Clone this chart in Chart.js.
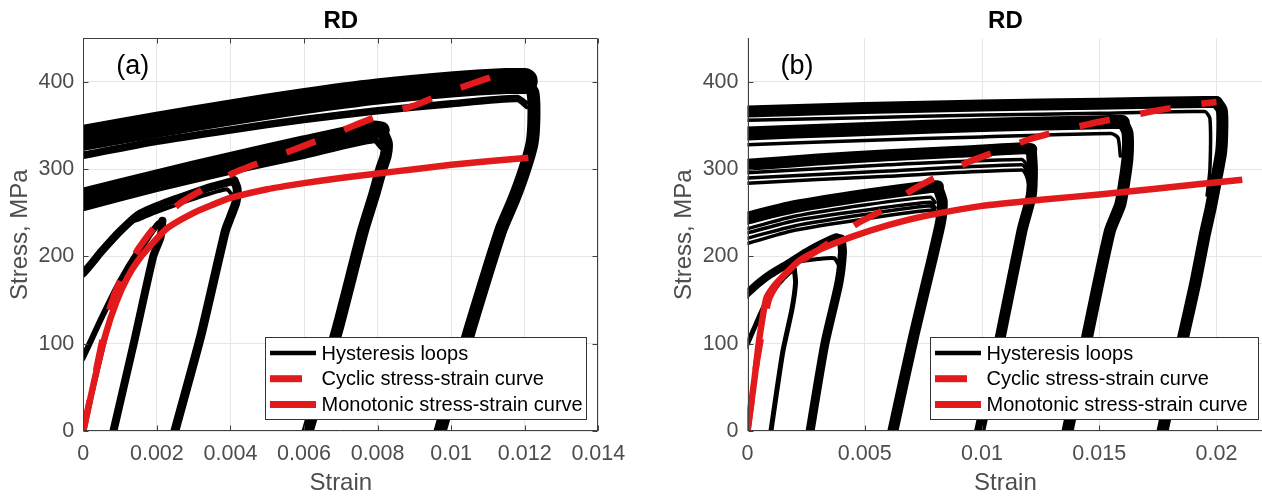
<!DOCTYPE html>
<html>
<head>
<meta charset="utf-8">
<script src="https://cdn.jsdelivr.net/npm/chart.js@4.4.1/dist/chart.umd.min.js"></script>
<style>
  html, body { margin: 0; padding: 0; background: #fff; overflow: hidden; width: 1262px; height: 497px; position: relative; }
  canvas { position: absolute; top: 0; }
  #chartA { left: 0; }
  #chartB { left: 664px; }
</style>
</head>
<body>
<canvas id="chartA" width="640" height="497"></canvas>
<canvas id="chartB" width="610" height="497"></canvas>
<script>
// ---- axes ----
const stressTicks = [0, 100, 200, 300, 400];
const stressLabels = ['0', '100', '200', '300', '400'];
const strainTicksA = [0, 0.002, 0.004, 0.006, 0.008, 0.01, 0.012, 0.014];
const strainLabelsA = ['0', '0.002', '0.004', '0.006', '0.008', '0.01', '0.012', '0.014'];
const strainTicksB = [0, 0.005, 0.01, 0.015, 0.02];
const strainLabelsB = ['0', '0.005', '0.01', '0.015', '0.02'];
const legendLabels = ['Hysteresis loops', 'Cyclic stress-strain curve', 'Monotonic stress-strain curve'];

// ---- panel (a): [strain, stress MPa] ----
const monotonicA = [[0,0],[0.0003,58],[0.0006,110],[0.0009,148],[0.0012,176],[0.0015,196],[0.0019,216],[0.0023,233],[0.003,250],[0.0035,259],[0.004,267],[0.005,277],[0.006,284],[0.007,290],[0.008,295],[0.009,300],[0.01,305],[0.011,309],[0.0121,313]];
const cyclicA = [[0,0],[0.0003,60],[0.0007,138],[0.001,172],[0.0015,209],[0.002,237],[0.0026,260],[0.0033,278],[0.0041,296],[0.0049,309],[0.0057,322],[0.0065,335],[0.0073,349],[0.0081,362],[0.009,373],[0.0097,385],[0.0105,397],[0.0114,410]];

const a12Band = [[-0.001,330],[0,336],[0.002,351],[0.004,365],[0.006,378],[0.008,389],[0.010,397],[0.0115,401],[0.0120,401]];
const a12Down = [[0.0120,401],[0.01222,388],[0.01225,360],[0.0122,330],[0.0120,300],[0.0117,265],[0.01135,230],[0.0105,115],[0.0097,0],[0.0094,-40]];
const a12Thin1 = [[-0.001,311],[0,318],[0.002,334],[0.004,347],[0.006,359],[0.008,369],[0.010,377],[0.0118,383],[0.01205,376]];
const a12Thin2 = [[-0.001,307],[0,314],[0.002,330],[0.004,343],[0.006,355],[0.008,365],[0.010,373],[0.0118,379],[0.01205,371]];

const a08Band = [[-0.001,257],[0,269],[0.002,290],[0.004,310],[0.006,329],[0.0079,346],[0.0081,345]];
const a08Down = [[0.0081,345],[0.00825,330],[0.00822,315],[0.0081,300],[0.0079,270],[0.0076,229],[0.0069,115],[0.0061,0],[0.0058,-40]];
const a08Thin1 = [[-0.001,247],[0,258],[0.002,280],[0.004,300],[0.006,318],[0.0079,336],[0.0081,328]];
const a08Thin2 = [[-0.001,243],[0,254],[0.002,276],[0.004,296],[0.006,314],[0.0079,332],[0.0081,324]];

const a04Up = [[-0.0005,165],[0,181],[0.0005,206],[0.001,229],[0.0015,248],[0.0022,261],[0.003,273],[0.0035,280],[0.0041,287]];
const a04Inner = [[0.0012,238],[0.0016,244],[0.002,251],[0.003,266],[0.0039,277],[0.00405,270]];
const a04Down = [[0.0041,287],[0.00418,278],[0.00415,262],[0.0040,245],[0.00386,229],[0.0032,110],[0.00249,0],[0.0023,-30]];

const a02Up = [[-0.0003,65],[0,85],[0.0005,130],[0.001,172],[0.0015,207],[0.002,236],[0.00215,241]];
const a02Down = [[0.00215,241],[0.0021,222],[0.0019,200],[0.00137,100],[0.00082,0],[0.0007,-25]];
const a02Load = [[0,0],[0.0003,55],[0.0006,108],[0.0009,150],[0.0012,180],[0.0016,210],[0.002,236]];

// ---- panel (b) ----
const monotonicB = [[0,0],[0.0003,60],[0.0005,105],[0.0008,152],[0.0011,165],[0.0015,177],[0.0022,195],[0.003,207],[0.0045,223],[0.006,236],[0.0075,246],[0.01,258],[0.0125,265],[0.015,271],[0.0175,278],[0.0211,288]];
const cyclicB = [[0,0],[0.0004,80],[0.0009,150],[0.0013,170],[0.002,190],[0.003,207],[0.0037,220],[0.0047,238],[0.0059,255],[0.007,276],[0.0082,293],[0.0095,309],[0.0107,321],[0.012,334],[0.0132,343],[0.0146,352],[0.0159,359],[0.0172,366],[0.0185,372],[0.02,377]];

const b20Band = [[-0.001,365],[0,366],[0.005,370],[0.01,373],[0.015,375],[0.0195,377],[0.0200,377]];
const b20Down = [[0.0200,377],[0.02022,368],[0.02025,350],[0.0202,320],[0.0200,290],[0.01975,255],[0.0195,225],[0.0191,170],[0.0186,110],[0.0181,50],[0.0177,0],[0.0175,-30]];
const b20Thin = [[-0.001,355],[0,356],[0.005,359],[0.01,362],[0.015,364],[0.0195,366],[0.01972,358],[0.01972,300],[0.0196,270]];

const b16Band = [[-0.001,339],[0,341],[0.004,345],[0.008,349],[0.012,352],[0.0155,354],[0.016,354]];
const b16Down = [[0.016,354],[0.0162,342],[0.01622,320],[0.01615,300],[0.0159,260],[0.01545,229],[0.0145,110],[0.01365,0],[0.0134,-30]];
const b16Thin = [[-0.001,327],[0,328],[0.005,333],[0.01,337],[0.0155,341],[0.0158,336],[0.0159,315]];

const b12Band = [[-0.001,303],[0,305],[0.003,311],[0.006,316],[0.009,320],[0.0118,324],[0.0121,323]];
const b12Down = [[0.0121,323],[0.01215,300],[0.0121,270],[0.0117,229],[0.0108,110],[0.0099,0],[0.0097,-30]];
const b12Thin1 = [[-0.001,294],[0,296],[0.006,305],[0.0117,311],[0.0119,305],[0.012,292]];
const b12Thin2 = [[-0.001,288],[0,290],[0.006,298],[0.0117,305],[0.0119,298],[0.012,287]];
const b12Thin3 = [[-0.001,282],[0,284],[0.006,292],[0.0117,299],[0.0119,292],[0.012,282]];

const b08Band = [[-0.001,237],[0,244],[0.002,257],[0.005,270],[0.0078,280],[0.0081,280]];
const b08Down = [[0.0081,280],[0.0083,264],[0.00828,248],[0.0082,235],[0.0079,200],[0.0071,110],[0.0062,0],[0.006,-30]];
const b08Thin1 = [[-0.001,226],[0,232],[0.002,246],[0.005,259],[0.0078,268],[0.008,262]];
const b08Thin2 = [[-0.001,221],[0,227],[0.002,241],[0.005,253],[0.0078,262],[0.008,256]];
const b08Thin3 = [[-0.001,215],[0,221],[0.002,235],[0.005,248],[0.0078,258],[0.008,252]];
const b08Thin4 = [[-0.001,209],[0,215],[0.002,230],[0.005,243],[0.0078,253],[0.008,247]];

const b04Up = [[-0.0005,145],[0,158],[0.0005,170],[0.001,180],[0.0018,193],[0.0025,205],[0.0032,215],[0.0038,222],[0.004,220]];
const b04Inner = [[0.0015,186],[0.002,193],[0.003,197],[0.0037,198],[0.0039,190]];
const b04Down = [[0.004,220],[0.00405,205],[0.0039,170],[0.0033,100],[0.00267,0],[0.0025,-30]];

const b02Up = [[-0.0003,85],[0,100],[0.0004,125],[0.0008,148],[0.0013,168],[0.0018,182],[0.002,185]];
const b02Down = [[0.002,185],[0.00205,170],[0.0019,140],[0.0015,90],[0.001,0],[0.0009,-20]];

const RED = '#e31a1c';
const FONT = '"Liberation Sans", Arial, sans-serif';
const GRAY = '#4d4d4d';

const black = (data, width) => ({
  data, borderColor: '#000', borderWidth: width, pointRadius: 0, tension: 0.2,
  borderCapStyle: 'round', borderJoinStyle: 'round', clip: 0
});
const redLine = (data, dashed) => ({
  data, borderColor: RED, borderWidth: 6.5, pointRadius: 0, tension: 0.2,
  borderDash: dashed ? [31, 31] : [], borderCapStyle: 'butt', clip: 0
});

// legend sample styles: [color, width, length]
const legendStyles = [['#000', 4.7, 46], [RED, 7, 32], [RED, 7, 46]];

const panelFrame = {
  id: 'panelFrame',
  afterDatasetsDraw(chart, args, o) {
    const { ctx, chartArea: a, scales } = chart;
    const L = Math.round(a.left) + 0.5, R = Math.round(a.right) - 0.5;
    const T = Math.round(a.top) + 0.5, B = Math.round(a.bottom) - 0.5;
    ctx.save();
    ctx.strokeStyle = '#404040';
    ctx.lineWidth = 1;
    ctx.beginPath();
    ctx.moveTo(L, T - 0.5); ctx.lineTo(L, B); ctx.lineTo(a.right, B);
    if (o.box) { ctx.moveTo(L, T); ctx.lineTo(R, T); ctx.lineTo(R, B); }
    scales.y.ticks.forEach(t => {
      const py = Math.round(scales.y.getPixelForValue(t.value)) + 0.5;
      ctx.moveTo(L, py); ctx.lineTo(L + 5, py);
      if (o.box) { ctx.moveTo(R, py); ctx.lineTo(R - 5, py); }
    });
    scales.x.ticks.forEach(t => {
      const px = Math.round(scales.x.getPixelForValue(t.value)) + 0.5;
      ctx.moveTo(px, B); ctx.lineTo(px, B - 5);
      if (o.box) { ctx.moveTo(px, T); ctx.lineTo(px, T + 5); }
    });
    ctx.stroke();

    // panel letter
    ctx.fillStyle = '#000';
    ctx.font = '27px ' + FONT;
    ctx.textBaseline = 'alphabetic';
    ctx.textAlign = 'left';
    ctx.fillText(o.letter, a.left + 33, a.top + 36);

    // legend box
    const lg = o.legend;
    const bx = Math.round(a.left + lg.left), by = Math.round(a.bottom - lg.bottom);
    ctx.fillStyle = '#fff';
    ctx.fillRect(bx, by, lg.width, lg.height);
    ctx.strokeStyle = '#333';
    ctx.strokeRect(bx + 0.5, by + 0.5, lg.width, lg.height);
    ctx.font = '20px ' + FONT;
    ctx.textBaseline = 'middle';
    legendLabels.forEach((lab, i) => {
      const cy = by + 16 + i * 25.7;
      const [col, w, len] = legendStyles[i];
      ctx.beginPath();
      ctx.strokeStyle = col;
      ctx.lineWidth = w;
      ctx.moveTo(bx + 5, cy); ctx.lineTo(bx + 5 + len, cy);
      ctx.stroke();
      ctx.fillStyle = '#000';
      ctx.fillText(lab, bx + 56.5, cy + 1);
    });
    ctx.restore();
  }
};

const makeOptions = (p) => ({
  responsive: false,
  animation: false,
  events: [],
  layout: { padding: { left: 0, right: p.padRight, top: 0, bottom: 0 } },
  plugins: {
    legend: { display: false },
    tooltip: { enabled: false },
    title: {
      display: true, text: 'RD', fullSize: false, color: '#000',
      font: { family: FONT, size: 24, weight: 'bold' },
      padding: { top: 6.6, bottom: 2.9 }
    },
    panelFrame: { box: p.box, letter: p.letter, legend: p.legend }
  },
  scales: {
    x: {
      type: 'linear', min: 0, max: p.xMax,
      afterBuildTicks: (s) => { s.ticks = p.xTicks.map(v => ({ value: v })); },
      afterFit: (s) => { s.height = 66; },
      grid: { color: '#e6e6e6', drawTicks: false },
      border: { display: false },
      ticks: {
        autoSkip: false, maxRotation: 0, padding: 10, color: GRAY,
        font: { family: FONT, size: 21.5 },
        callback: (v, i) => p.xLabels[i]
      },
      title: { display: true, text: 'Strain', color: GRAY, font: { family: FONT, size: 24, lineHeight: 1.1 }, padding: { top: 0, bottom: 0 } }
    },
    y: {
      type: 'linear', min: 0, max: 450,
      afterBuildTicks: (s) => { s.ticks = stressTicks.map(v => ({ value: v })); },
      afterFit: (s) => { s.width = p.yWidth; },
      grid: { color: '#e6e6e6', drawTicks: false },
      border: { display: false },
      ticks: {
        padding: 9, color: GRAY, font: { family: FONT, size: 21.5 },
        callback: (v, i) => stressLabels[i]
      },
      title: { display: true, text: 'Stress, MPa', color: GRAY, font: { family: FONT, size: 24 }, padding: { top: 5.5, bottom: 0 } }
    }
  }
});

new Chart('chartA', {
  type: 'line',
  data: {
    datasets: [
      redLine(monotonicA, false),
      redLine(cyclicA, true),
      black(a12Band, 26), black(a12Down, 13), black(a12Thin1, 4), black(a12Thin2, 4),
      black(a08Band, 17), black(a08Down, 12), black(a08Thin1, 4), black(a08Thin2, 4),
      black(a04Up, 8), black(a04Inner, 4), black(a04Down, 9),
      black(a02Up, 6), black(a02Down, 8), black(a02Load, 5)
    ]
  },
  options: makeOptions({
    xTicks: strainTicksA, xLabels: strainLabelsA, xMax: 0.014,
    padRight: 41.7, yWidth: 83.3, box: true, letter: '(a)',
    legend: { left: 182, bottom: 94, width: 321, height: 82 }
  }),
  plugins: [panelFrame]
});

new Chart('chartB', {
  type: 'line',
  data: {
    datasets: [
      redLine(monotonicB, false),
      redLine(cyclicB, true),
      black(b20Band, 12), black(b20Down, 12), black(b20Thin, 3.5),
      black(b16Band, 14), black(b16Down, 12), black(b16Thin, 3.5),
      black(b12Band, 12), black(b12Down, 11), black(b12Thin1, 3.5), black(b12Thin2, 3.5), black(b12Thin3, 3.5),
      black(b08Band, 13), black(b08Down, 11), black(b08Thin1, 3.5), black(b08Thin2, 3.5), black(b08Thin3, 3.5), black(b08Thin4, 3.5),
      black(b04Up, 8), black(b04Inner, 4), black(b04Down, 9),
      black(b02Up, 5), black(b02Down, 5)
    ]
  },
  options: makeOptions({
    xTicks: strainTicksB, xLabels: strainLabelsB, xMax: 0.022,
    padRight: 10.6, yWidth: 83.5, box: false, letter: '(b)',
    legend: { left: 182, bottom: 94, width: 328, height: 82 }
  }),
  plugins: [panelFrame]
});
</script>
</body>
</html>
